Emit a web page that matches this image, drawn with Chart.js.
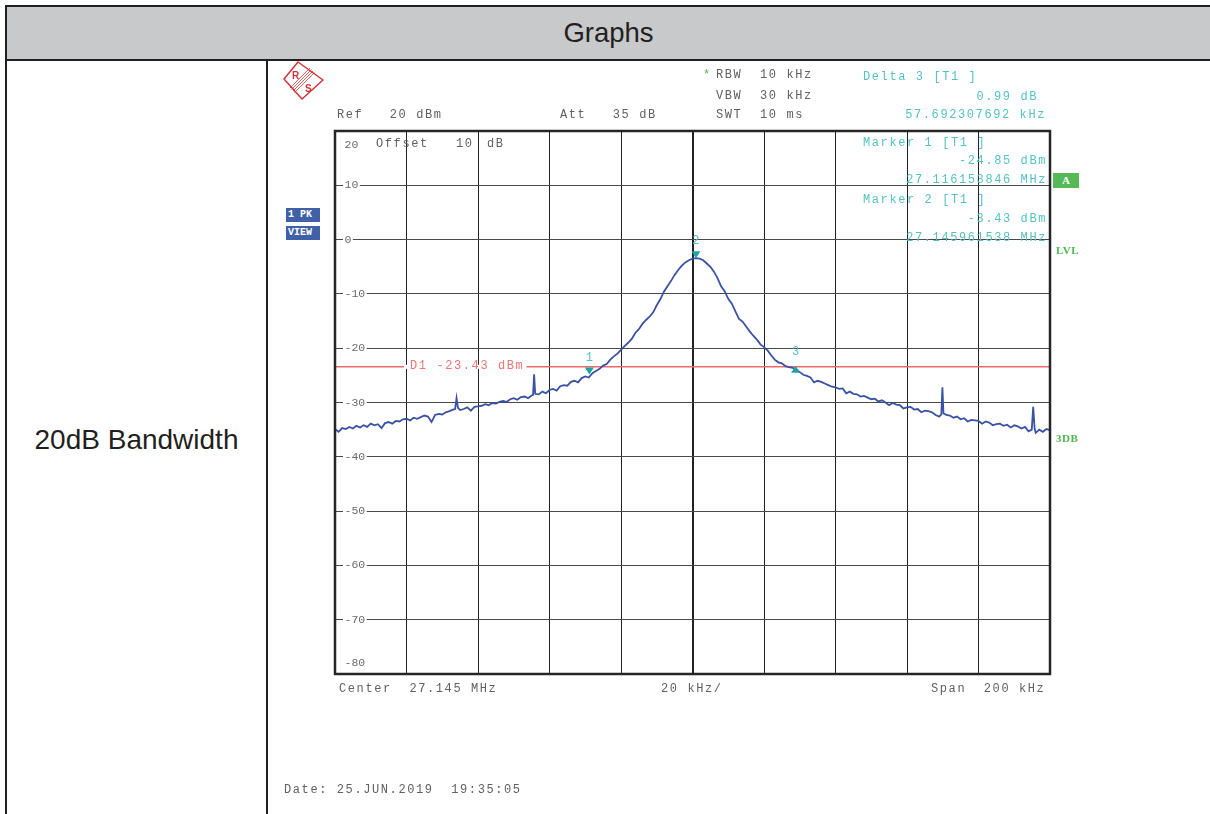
<!DOCTYPE html>
<html>
<head>
<meta charset="utf-8">
<title>20dB Bandwidth</title>
<script src="https://cdn.jsdelivr.net/npm/chart.js@4/dist/chart.umd.min.js"></script>
<style>
  body { margin: 0; width: 1210px; height: 814px; overflow: hidden; background: #fff; position: relative; font-family: "Liberation Sans", Arial, sans-serif; }
  .rule { position: absolute; background: #231f20; }
  #head { position: absolute; left: 7px; top: 7px; width: 1203px; height: 52px; background: #c8c9ca; display: flex; align-items: center; justify-content: center; font-size: 27.5px; color: #231f20; }
  #rowname { position: absolute; left: 7px; top: 420px; width: 259px; text-align: center; font-size: 28px; line-height: 40px; color: #231f20; }
  #chartBox { position: absolute; left: 0; top: 0; z-index: 1; }
  .t { position: absolute; z-index: 2; font-family: "Liberation Mono", monospace; font-size: 12px; line-height: 14px; letter-spacing: 1.6px; white-space: pre; color: #606060; }
  .c { color: #55c2c2; }
  .g { color: #4cb84c; }
  .badge { position: absolute; z-index: 2; color: #fff; font-weight: bold; white-space: pre; }
  .blue { background: #4060a8; font-family: "Liberation Mono", monospace; font-size: 10px; line-height: 14px; width: 34px; height: 14px; padding-left: 2px; box-sizing: border-box; }
  .lvl { position: absolute; z-index: 2; font-family: "Liberation Serif", serif; font-weight: bold; font-size: 11px; line-height: 12px; color: #4cb84c; letter-spacing: 0.5px; }
</style>
</head>
<body>
<!-- table frame -->
<div class="rule" style="left:5px; top:5px; width:1205px; height:2px;"></div>
<div class="rule" style="left:5px; top:5px; width:2px; height:809px;"></div>
<div id="head">Graphs</div>
<div class="rule" style="left:5px; top:59px; width:1205px; height:2px;"></div>
<div class="rule" style="left:266px; top:61px; width:2px; height:753px;"></div>
<div id="rowname">20dB Bandwidth</div>

<!-- R&S logo -->
<svg style="position:absolute; left:280px; top:58px; z-index:2;" width="48" height="46" viewBox="0 0 48 46">
  <polygon points="18,4 43,22 22,41 4,21" fill="none" stroke="#d0343a" stroke-width="1.5" stroke-linejoin="round"/>
  <g stroke="#d0343a" stroke-width="0.8">
    <line x1="30" y1="10" x2="10" y2="30"/>
    <line x1="31.5" y1="11.5" x2="11.5" y2="31.5"/>
    <line x1="33" y1="13" x2="13" y2="33"/>
    <line x1="34.5" y1="14.5" x2="14.5" y2="34.5"/>
  </g>
  <text x="12" y="21" font-family="Liberation Sans, sans-serif" font-size="10" font-weight="bold" fill="#d0343a">R</text>
  <text x="25" y="34" font-family="Liberation Sans, sans-serif" font-size="10" font-weight="bold" fill="#d0343a">S</text>
</svg>

<canvas id="chartBox" width="1210" height="814"></canvas>

<!-- instrument annotations -->
<div class="t" style="left:337px; top:108px;">Ref   20 dBm</div>
<div class="t" style="left:560px; top:108px;">Att   35 dB</div>
<div class="t g" style="left:703px; top:68px;">*</div>
<div class="t" style="left:716px; top:68px;">RBW  10 kHz</div>
<div class="t" style="left:716px; top:89px;">VBW  30 kHz</div>
<div class="t" style="left:716px; top:108px;">SWT  10 ms</div>
<div class="t" style="left:376px; top:137px;">Offset</div>
<div class="t" style="left:456px; top:137px;">10</div>
<div class="t" style="left:487px; top:137px;">dB</div>

<div class="t c" style="left:863px; top:70px;">Delta 3 [T1 ]</div>
<div class="t c" style="right:172px; top:90px;">0.99 dB</div>
<div class="t c" style="right:164px; top:108px;">57.692307692 kHz</div>
<div class="t c" style="left:863px; top:136px;">Marker 1 [T1 ]</div>
<div class="t c" style="right:163px; top:154px;">-24.85 dBm</div>
<div class="t c" style="right:163px; top:173px;">27.116153846 MHz</div>
<div class="t c" style="left:863px; top:193px;">Marker 2 [T1 ]</div>
<div class="t c" style="right:163px; top:212px;">-3.43 dBm</div>
<div class="t c" style="right:163px; top:231px;">27.145961538 MHz</div>

<div class="t" style="left:339px; top:682px;">Center  27.145 MHz</div>
<div class="t" style="left:661px; top:682px;">20 kHz/</div>
<div class="t" style="left:931px; top:682px;">Span  200 kHz</div>
<div class="t" style="left:284px; top:783px;">Date: 25.JUN.2019  19:35:05</div>

<div class="badge blue" style="left:286px; top:208px;">1 PK</div>
<div class="badge blue" style="left:286px; top:226px;">VIEW</div>
<div class="badge" style="left:1053px; top:173px; width:26px; height:15px; background:#55b955; font-family:'Liberation Serif', serif; font-size:11px; line-height:15px; text-align:center;">A</div>
<div class="lvl" style="left:1056px; top:244px;">LVL</div>
<div class="lvl" style="left:1056px; top:432px;">3DB</div>

<script>
// trace: offset from 27.145 MHz centre (kHz) and level (dBm)
const freqOffsetKHz = [
  -100, -99, -98, -97, -96, -95, -94, -93, -92, -91, -90, -89, -88, -87, -86, -85, -84, -83, -82, -81,
  -80, -79, -78, -77, -76, -75, -74, -73, -72, -71, -70, -69, -68, -67, -66.4, -66, -65.6, -65, -64, -63,
  -62, -61, -60, -59, -58, -57, -56, -55, -54, -53, -52, -51, -50, -49, -48, -47, -46, -45, -44.6, -44.3,
  -44, -43, -42, -41, -40, -39, -38, -37, -36, -35, -34, -33, -32, -31, -30, -29, -28, -27, -26, -25,
  -24, -23, -22, -21, -20, -19, -18, -17, -16, -15, -14, -13, -12, -11, -10, -9, -8, -7, -6, -5,
  -4, -3, -2, -1, 0, 1, 2, 3, 4, 5, 6, 7, 8, 9, 10, 11, 12, 13, 14, 15,
  16, 17, 18, 19, 20, 21, 22, 23, 24, 25, 26, 27, 28, 29, 30, 31, 32, 33, 34, 35,
  36, 37, 38, 39, 40, 41, 42, 43, 44, 45, 46, 47, 48, 49, 50, 51, 52, 53, 54, 55,
  56, 57, 58, 59, 60, 61, 62, 63, 64, 65, 66, 67, 68, 69, 69.6, 69.9, 70.2, 71, 72, 73,
  74, 75, 76, 77, 78, 79, 80, 81, 82, 83, 84, 85, 86, 87, 88, 89, 90, 91, 92, 93,
  94, 94.9, 95.3, 95.7, 96, 97, 98, 99, 100
];
const traceDbm = [
  -34.9, -35.4, -34.7, -34.9, -34.5, -34.8, -34.3, -34.6, -34.2, -34.5, -33.9, -34.2, -34.0, -34.7, -33.8, -33.6, -33.9, -33.4, -33.5, -33.1,
  -33.0, -33.3, -32.8, -33.0, -32.7, -32.4, -32.6, -33.6, -32.3, -32.1, -32.2, -31.8, -31.6, -31.3, -31.2, -29.2, -31.0, -31.4, -31.2, -30.9,
  -31.5, -30.8, -30.7, -30.6, -30.3, -30.5, -30.1, -30.2, -29.9, -29.7, -29.9, -29.4, -29.2, -29.5, -29.0, -28.9, -29.2, -28.7, -28.6, -24.8,
  -28.4, -28.5, -28.0, -28.3, -27.7, -27.5, -27.8, -27.0, -26.8, -26.9, -26.2, -26.0, -26.3, -25.5, -25.2, -25.4, -24.6, -24.2, -23.8, -23.2,
  -22.9, -22.1, -21.5, -21.0, -20.3, -19.6, -19.0, -18.3, -17.2, -16.5, -15.5, -14.8, -14.2, -13.4, -12.1, -11.0, -9.6, -8.6, -7.6, -6.5,
  -5.6, -4.8, -4.2, -3.8, -3.5, -3.43, -3.5, -3.8, -4.4, -5.0, -5.9, -7.1, -8.6, -9.5, -10.9, -11.8, -13.2, -14.6, -15.1, -16.0,
  -16.9, -17.7, -18.4, -19.3, -19.8, -20.4, -21.3, -22.1, -22.6, -22.8, -23.3, -23.5, -23.6, -23.9, -24.4, -24.9, -25.1, -25.4, -26.3, -26.0,
  -26.2, -26.5, -26.8, -27.1, -27.2, -27.5, -27.4, -28.3, -28.0, -28.4, -28.5, -28.9, -28.8, -29.1, -29.4, -29.3, -29.8, -29.6, -30.0, -30.5,
  -30.1, -30.4, -30.5, -31.1, -30.9, -30.8, -31.3, -31.2, -31.8, -31.5, -31.6, -31.8, -32.3, -32.6, -32.2, -27.2, -32.0, -32.3, -32.4, -32.8,
  -32.6, -33.1, -32.9, -33.5, -33.2, -33.3, -33.4, -33.9, -33.5, -33.7, -34.2, -34.0, -33.9, -34.3, -34.1, -34.6, -34.2, -34.4, -34.8, -34.5,
  -35.3, -35.0, -30.8, -34.8, -35.6, -35.0, -35.4, -34.9, -35.1
];

const yTicks = [20, 10, 0, -10, -20, -30, -40, -50, -60, -70, -80];
const xSpanKHz = [-100, 100];
const xDivKHz = 20;

const displayLineDbm = -23.43;
const displayLineLabel = 'D1 -23.43 dBm';

const markerNames = ['1', '2', '3'];
const markerFreqKHz = [-28.85, 0.96, 28.84];
const markerDbm = [-24.85, -3.43, -23.86];
const markerPointsDown = [true, true, false];

const analyzerDecor = {
  id: 'analyzerDecor',
  beforeDatasetsDraw(chart) {
    const { ctx, chartArea, scales: { y } } = chart;
    ctx.save();
    ctx.font = '11.5px "Liberation Mono", monospace';
    ctx.letterSpacing = '0px';
    ctx.textBaseline = 'middle';
    yTicks.forEach((v, i) => {
      let py = y.getPixelForValue(v);
      const label = String(v);
      const w = ctx.measureText(label).width;
      if (i === 0) py += 14;
      else if (i === yTicks.length - 1) py -= 11;
      else {
        ctx.fillStyle = '#fff';
        ctx.fillRect(chartArea.left + 8, py - 5, w + 3, 10);
      }
      ctx.fillStyle = '#6a6a6a';
      ctx.fillText(label, chartArea.left + 9.5, py);
    });
    ctx.restore();
  },
  afterDatasetsDraw(chart) {
    const { ctx, chartArea, scales: { x, y } } = chart;
    ctx.save();

    // display line label
    ctx.font = '12px "Liberation Mono", monospace';
    ctx.letterSpacing = '1.6px';
    ctx.textBaseline = 'middle';
    const dy = y.getPixelForValue(displayLineDbm);
    const lw = ctx.measureText(displayLineLabel).width;
    ctx.fillStyle = '#fff';
    ctx.fillRect(404, dy - 2, lw + 8, 4);
    ctx.fillStyle = '#f07272';
    ctx.fillText(displayLineLabel, 410, dy - 1);

    // markers
    ctx.letterSpacing = '0px';
    markerNames.forEach((name, i) => {
      const px = x.getPixelForValue(markerFreqKHz[i]);
      const py = y.getPixelForValue(markerDbm[i]);
      ctx.fillStyle = '#1fa3a3';
      ctx.beginPath();
      if (markerPointsDown[i]) {
        ctx.moveTo(px, py);
        ctx.lineTo(px - 4.5, py - 7);
        ctx.lineTo(px + 4.5, py - 7);
      } else {
        ctx.moveTo(px, py - 3.5);
        ctx.lineTo(px - 4.5, py + 3.5);
        ctx.lineTo(px + 4.5, py + 3.5);
      }
      ctx.closePath();
      ctx.fill();
      ctx.fillStyle = '#55c2c2';
      ctx.textAlign = 'center';
      ctx.fillText(name, px, py - 17);
    });

    // screen frame
    ctx.strokeStyle = '#262626';
    ctx.lineWidth = 2.5;
    ctx.strokeRect(chartArea.left, chartArea.top, chartArea.right - chartArea.left, chartArea.bottom - chartArea.top);
    ctx.restore();
  }
};

new Chart(document.getElementById('chartBox'), {
  type: 'line',
  data: {
    datasets: [
      {
        label: 'Trace 1',
        data: freqOffsetKHz.map((f, i) => ({ x: f, y: traceDbm[i] })),
        borderColor: '#3a52a3',
        borderWidth: 1.8,
        pointRadius: 0,
        tension: 0
      },
      {
        label: 'D1',
        data: xSpanKHz.map(f => ({ x: f, y: displayLineDbm })),
        borderColor: '#f06a6a',
        borderWidth: 1.4,
        pointRadius: 0
      }
    ]
  },
  options: {
    responsive: false,
    animation: false,
    events: [],
    layout: { padding: { left: 335, top: 131, right: 160, bottom: 140 } },
    plugins: { legend: { display: false }, tooltip: { enabled: false } },
    scales: {
      x: {
        type: 'linear', min: xSpanKHz[0], max: xSpanKHz[1],
        ticks: { display: false, stepSize: xDivKHz },
        grid: {
          drawTicks: false,
          color: '#222',
          lineWidth: c => (c.tick && c.tick.value === 0 ? 2 : 1)
        },
        border: { display: false }
      },
      y: {
        min: yTicks[yTicks.length - 1], max: yTicks[0],
        ticks: { display: false, stepSize: 10 },
        grid: { drawTicks: false, color: '#4a4a4a', lineWidth: 1 },
        border: { display: false }
      }
    }
  },
  plugins: [analyzerDecor]
});
</script>
</body>
</html>
